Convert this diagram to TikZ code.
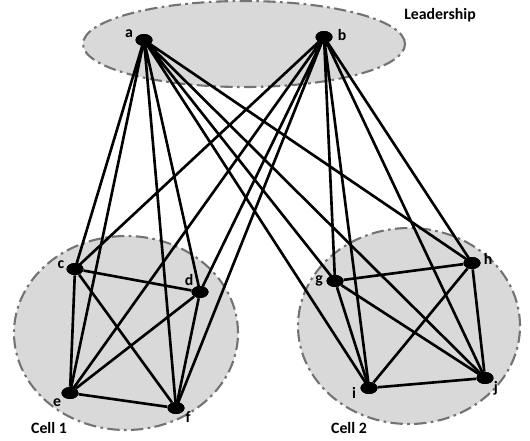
\documentclass[tikz,border=0pt]{standalone}
\usepackage{fontspec}
\setmainfont{Carlito}
\usetikzlibrary{positioning,shapes.geometric}

\tikzset{
  member/.style={ellipse, fill=black, inner sep=0pt, minimum width=17\unitpx, minimum height=12\unitpx},
  tag/.style={font=\bfseries\fontsize{9}{10}\selectfont, inner sep=0pt},
  group/.style={fill=black!15, draw=black!55, line width=1.2pt, dash pattern=on 7pt off 2.5pt on 1.5pt off 2.5pt},
  tie/.style={line width=1.5pt}
}
\newlength{\unitpx}
\setlength{\unitpx}{0.02cm}

\begin{document}
\begin{tikzpicture}[x=0.02cm, y=-0.02cm]
      \useasboundingbox (0,0) rectangle (530,440);

      % Define the shaded regions
      \node[group, ellipse, minimum width=322\unitpx, minimum height=86\unitpx] (lead) at (244,44) {};
      \node[group, ellipse, minimum width=224\unitpx, minimum height=194\unitpx] (cell1) at (126,333) {};
      \node[group, ellipse, minimum width=222\unitpx, minimum height=196\unitpx] (cell2) at (409,326) {};

      % Define the group names
      \node[tag] (leadtxt) at (440,15) {Leadership};
      \node[tag] (cell1txt) at (49,428) {Cell 1};
      \node[tag] (cell2txt) at (349,428) {Cell 2};

      % Define the nodes inside the leadership
      \node[member] (a) at (144,40) {};
      \node[member] (b) at (324,37) {};

      % Define the nodes inside cell 1
      \node[member] (c) at (75,269) {};
      \node[member] (d) at (200,292) {};
      \node[member] (e) at (70,393) {};
      \node[member] (f) at (176,408) {};

      % Define the nodes inside cell 2
      \node[member] (g) at (335,281) {};
      \node[member] (h) at (472,263) {};
      \node[member] (i) at (369,388) {};
      \node[member] (j) at (485,378) {};

      % Name the nodes
      \node[tag] (la) at (129,34) {a};
      \node[tag] (lb) at (342,35) {b};
      \node[tag] (lc) at (61,265) {c};
      \node[tag] (ld) at (189,280) {d};
      \node[tag] (le) at (57,403) {e};
      \node[tag] (lf) at (188,417) {f};
      \node[tag] (lg) at (319,281) {g};
      \node[tag] (lh) at (488,259) {h};
      \node[tag] (li) at (354,393) {i};
      \node[tag] (lj) at (496,388) {j};

      % Draw the ties from the leadership to the cells
      \draw[tie] (a.center) -- (c.center) (a.center) -- (d.center) (a.center) -- (e.center) (a.center) -- (f.center);
      \draw[tie] (a.center) -- (g.center) (a.center) -- (h.center) (a.center) -- (i.center) (a.center) -- (j.center);
      \draw[tie] (b.center) -- (c.center) (b.center) -- (d.center) (b.center) -- (e.center) (b.center) -- (f.center);
      \draw[tie] (b.center) -- (g.center) (b.center) -- (h.center) (b.center) -- (i.center) (b.center) -- (j.center);

      % Draw the ties inside cell 1
      \draw[tie] (c) -- (d);
      \draw[tie] (c) -- (e);
      \draw[tie] (c) -- (f);
      \draw[tie] (d) -- (e);
      \draw[tie] (d) -- (f);
      \draw[tie] (e) -- (f);

      % Draw the ties inside cell 2
      \draw[tie] (g) -- (h);
      \draw[tie] (g) -- (i);
      \draw[tie] (g) -- (j);
      \draw[tie] (h) -- (i);
      \draw[tie] (h) -- (j);
      \draw[tie] (i) -- (j);

      % Put the members on top of the ties
      \foreach \m in {a,b,c,d,e,f,g,h,i,j}
          \node[member] at (\m) {};
\end{tikzpicture}
\end{document}
